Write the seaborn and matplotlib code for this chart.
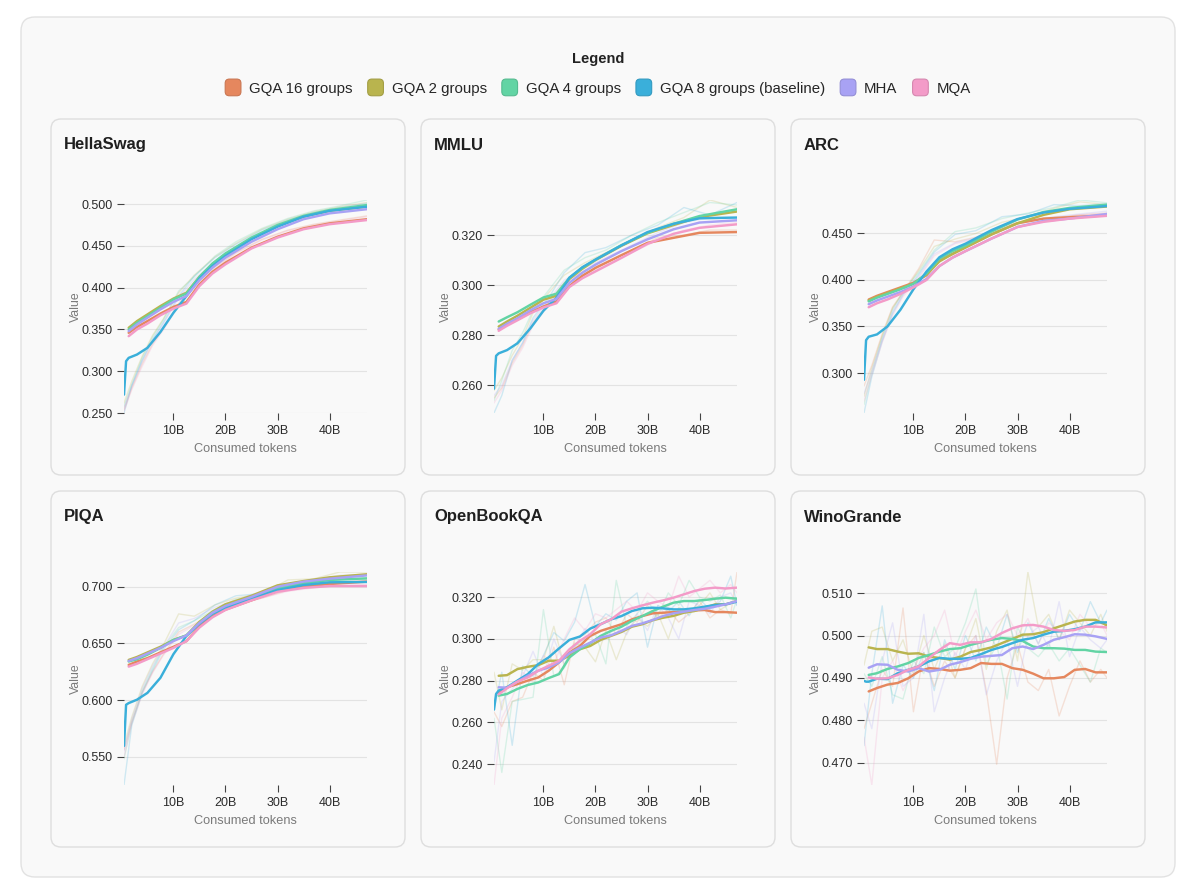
import numpy as np
import pandas as pd
import matplotlib
matplotlib.use("Agg")
import matplotlib.pyplot as plt
import seaborn as sns
from matplotlib.patches import FancyBboxPatch, Patch
from matplotlib.legend_handler import HandlerPatch
from matplotlib.ticker import MultipleLocator, FuncFormatter
import matplotlib.colors as mcolors

# Series and colours
series_names = ["GQA 16 groups", "GQA 2 groups", "GQA 4 groups",
                "GQA 8 groups (baseline)", "MHA", "MQA"]
series_colors = ["#E5875E", "#B9B44E", "#62D4A4", "#3AAFDA", "#A8A2F4", "#F39BC8"]

benchmarks = ["HellaSwag", "MMLU", "ARC", "PIQA", "OpenBookQA", "WinoGrande"]
y_steps = [0.05, 0.02, 0.05, 0.05, 0.02, 0.01]

x_ticks = [10, 20, 30, 40]
x_tick_labels = ["10B", "20B", "30B", "40B"]

# consumed tokens (billions)
smooth_x_coarse = [0.5, 0.9, 1.4, 3, 5, 7.5, 10, 12.5, 15, 17.5, 20, 25, 30, 35, 40, 47.2]
smooth_x_fine = [0.5, 0.9, 1.4, 3, 5, 7, 9, 11, 13, 15, 17, 19, 21, 23, 25, 27, 29,
                 31, 33, 35, 37, 39, 41, 43, 45, 47.2]
raw_x_coarse = [0.5, 2, 4, 6, 8, 11, 14, 18, 22, 27, 32, 37, 42, 47.2]
raw_x_fine = [0.5, 2, 4, 6, 8, 10, 12, 14, 16, 18, 20, 22, 24, 26, 28, 30, 32, 34,
              36, 38, 40, 42, 44, 46, 47.2]

N = None

# ---------------- HellaSwag ----------------
hellaswag_smooth = {
    "GQA 16 groups": [N, N, 0.346, 0.353, 0.360, 0.369, 0.377, 0.383, 0.404, 0.419, 0.430, 0.448, 0.461, 0.471, 0.477, 0.482],
    "GQA 2 groups": [N, N, 0.352, 0.360, 0.368, 0.378, 0.387, 0.394, 0.413, 0.428, 0.440, 0.459, 0.474, 0.485, 0.492, 0.497],
    "GQA 4 groups": [N, N, 0.350, 0.358, 0.366, 0.376, 0.386, 0.393, 0.413, 0.429, 0.441, 0.460, 0.475, 0.486, 0.493, 0.499],
    "GQA 8 groups (baseline)": [0.272, 0.312, 0.316, 0.320, 0.328, 0.347, 0.370, 0.390, 0.411, 0.426, 0.438, 0.458, 0.473, 0.485, 0.492, 0.497],
    "MHA": [N, N, 0.348, 0.356, 0.364, 0.374, 0.383, 0.390, 0.409, 0.424, 0.436, 0.455, 0.470, 0.482, 0.489, 0.494],
    "MQA": [N, N, 0.342, 0.350, 0.357, 0.367, 0.375, 0.381, 0.402, 0.417, 0.428, 0.447, 0.460, 0.470, 0.476, 0.481],
}
hellaswag_raw = {
    "GQA 16 groups": [0.254, 0.280, 0.309, 0.333, 0.351, 0.381, 0.404, 0.425, 0.442, 0.458, 0.469, 0.476, 0.481, 0.486],
    "GQA 2 groups": [0.262, 0.288, 0.318, 0.343, 0.362, 0.394, 0.415, 0.437, 0.453, 0.470, 0.482, 0.491, 0.497, 0.502],
    "GQA 4 groups": [0.258, 0.284, 0.316, 0.341, 0.361, 0.396, 0.413, 0.438, 0.455, 0.471, 0.483, 0.492, 0.498, 0.505],
    "GQA 8 groups (baseline)": [0.250, 0.283, 0.313, 0.338, 0.358, 0.390, 0.414, 0.436, 0.452, 0.469, 0.481, 0.490, 0.496, 0.501],
    "MHA": [0.256, 0.282, 0.312, 0.337, 0.356, 0.388, 0.410, 0.432, 0.449, 0.466, 0.478, 0.488, 0.493, 0.498],
    "MQA": [0.252, 0.278, 0.306, 0.331, 0.349, 0.379, 0.402, 0.423, 0.441, 0.457, 0.468, 0.475, 0.480, 0.485],
}

# ---------------- MMLU ----------------
mmlu_smooth = {
    "GQA 16 groups": [N, N, 0.2824, 0.2843, 0.2864, 0.2892, 0.2915, 0.2935, 0.2997, 0.3038, 0.3069, 0.3120, 0.3169, 0.3189, 0.3209, 0.3212],
    "GQA 2 groups": [N, N, 0.2835, 0.2855, 0.2878, 0.2910, 0.2942, 0.2958, 0.3025, 0.3066, 0.3100, 0.3157, 0.3207, 0.3240, 0.3272, 0.3294],
    "GQA 4 groups": [N, N, 0.2855, 0.2872, 0.2892, 0.2922, 0.2951, 0.2966, 0.3030, 0.3070, 0.3102, 0.3160, 0.3209, 0.3245, 0.3276, 0.3303],
    "GQA 8 groups (baseline)": [0.2587, 0.2718, 0.2728, 0.2741, 0.2768, 0.2828, 0.2898, 0.2950, 0.3030, 0.3072, 0.3102, 0.3159, 0.3212, 0.3245, 0.3267, 0.3270],
    "MHA": [N, N, 0.2826, 0.2846, 0.2868, 0.2900, 0.2928, 0.2945, 0.3010, 0.3050, 0.3082, 0.3136, 0.3183, 0.3223, 0.3250, 0.3259],
    "MQA": [N, N, 0.2818, 0.2838, 0.2860, 0.2888, 0.2911, 0.2928, 0.2993, 0.3028, 0.3055, 0.3109, 0.3165, 0.3205, 0.3229, 0.3243],
}
mmlu_raw = {
    "GQA 16 groups": [0.255, 0.259, 0.269, 0.276, 0.285, 0.293, 0.301, 0.306, 0.309, 0.314, 0.319, 0.320, 0.322, 0.322],
    "GQA 2 groups": [0.258, 0.263, 0.272, 0.279, 0.289, 0.297, 0.304, 0.309, 0.313, 0.318, 0.323, 0.327, 0.334, 0.331],
    "GQA 4 groups": [0.254, 0.262, 0.274, 0.281, 0.290, 0.298, 0.306, 0.311, 0.314, 0.320, 0.325, 0.329, 0.333, 0.332],
    "GQA 8 groups (baseline)": [0.249, 0.256, 0.270, 0.277, 0.287, 0.295, 0.305, 0.313, 0.315, 0.320, 0.324, 0.331, 0.328, 0.333],
    "MHA": [0.256, 0.260, 0.270, 0.277, 0.286, 0.294, 0.302, 0.307, 0.311, 0.316, 0.321, 0.325, 0.327, 0.327],
    "MQA": [0.253, 0.258, 0.268, 0.275, 0.284, 0.292, 0.300, 0.304, 0.308, 0.313, 0.318, 0.322, 0.324, 0.325],
}

# ---------------- ARC ----------------
arc_smooth = {
    "GQA 16 groups": [N, N, 0.379, 0.383, 0.387, 0.392, 0.397, 0.405, 0.421, 0.428, 0.435, 0.449, 0.461, 0.466, 0.4675, 0.4695],
    "GQA 2 groups": [N, N, 0.378, 0.382, 0.386, 0.391, 0.396, 0.406, 0.420, 0.428, 0.435, 0.449, 0.461, 0.470, 0.476, 0.479],
    "GQA 4 groups": [N, N, 0.377, 0.381, 0.385, 0.390, 0.396, 0.407, 0.423, 0.431, 0.437, 0.452, 0.465, 0.473, 0.4775, 0.481],
    "GQA 8 groups (baseline)": [0.2927, 0.3353, 0.339, 0.3415, 0.350, 0.368, 0.390, 0.409, 0.4245, 0.433, 0.439, 0.4536, 0.4655, 0.4725, 0.4765, 0.4795],
    "MHA": [N, N, 0.374, 0.378, 0.382, 0.387, 0.393, 0.401, 0.415, 0.424, 0.431, 0.4445, 0.457, 0.4635, 0.466, 0.471],
    "MQA": [N, N, 0.3707, 0.375, 0.379, 0.385, 0.392, 0.400, 0.415, 0.424, 0.431, 0.4445, 0.457, 0.4625, 0.466, 0.469],
}
arc_raw = {
    "GQA 16 groups": [0.286, 0.308, 0.342, 0.371, 0.387, 0.412, 0.443, 0.441, 0.446, 0.458, 0.464, 0.467, 0.470, 0.472],
    "GQA 2 groups": [0.275, 0.305, 0.340, 0.370, 0.386, 0.410, 0.436, 0.444, 0.450, 0.462, 0.468, 0.477, 0.484, 0.481],
    "GQA 4 groups": [0.266, 0.300, 0.338, 0.368, 0.388, 0.408, 0.432, 0.452, 0.456, 0.466, 0.472, 0.478, 0.486, 0.483],
    "GQA 8 groups (baseline)": [0.257, 0.296, 0.334, 0.364, 0.384, 0.406, 0.430, 0.449, 0.453, 0.468, 0.471, 0.481, 0.480, 0.482],
    "MHA": [0.278, 0.302, 0.336, 0.366, 0.385, 0.404, 0.428, 0.440, 0.445, 0.456, 0.463, 0.468, 0.471, 0.474],
    "MQA": [0.270, 0.298, 0.333, 0.362, 0.382, 0.402, 0.426, 0.439, 0.444, 0.455, 0.463, 0.466, 0.470, 0.471],
}

# ---------------- PIQA ----------------
piqa_smooth = {
    "GQA 16 groups": [N, N, 0.631, 0.634, 0.637, 0.642, 0.647, 0.652, 0.665, 0.674, 0.6798, 0.688, 0.6964, 0.700, 0.7024, 0.7045],
    "GQA 2 groups": [N, N, 0.6354, 0.638, 0.642, 0.647, 0.653, 0.657, 0.669, 0.678, 0.6845, 0.692, 0.7012, 0.705, 0.7083, 0.711],
    "GQA 4 groups": [N, N, 0.634, 0.636, 0.640, 0.646, 0.653, 0.657, 0.668, 0.677, 0.683, 0.6905, 0.6985, 0.703, 0.706, 0.7074],
    "GQA 8 groups (baseline)": [0.5595, 0.5958, 0.5973, 0.6003, 0.6063, 0.6196, 0.6405, 0.6566, 0.6673, 0.676, 0.6815, 0.6896, 0.697, 0.7015, 0.7039, 0.7042],
    "MHA": [N, N, 0.6345, 0.637, 0.641, 0.646, 0.652, 0.657, 0.668, 0.677, 0.683, 0.691, 0.700, 0.7045, 0.7071, 0.710],
    "MQA": [N, N, 0.6295, 0.632, 0.636, 0.641, 0.646, 0.652, 0.664, 0.673, 0.6795, 0.688, 0.6955, 0.699, 0.7006, 0.7006],
}
piqa_raw = {
    "GQA 16 groups": [0.556, 0.581, 0.607, 0.625, 0.640, 0.660, 0.667, 0.678, 0.684, 0.690, 0.697, 0.701, 0.704, 0.706],
    "GQA 2 groups": [0.560, 0.585, 0.612, 0.632, 0.648, 0.676, 0.674, 0.684, 0.690, 0.694, 0.706, 0.707, 0.713, 0.713],
    "GQA 4 groups": [0.548, 0.580, 0.608, 0.628, 0.646, 0.664, 0.670, 0.680, 0.689, 0.692, 0.700, 0.704, 0.709, 0.710],
    "GQA 8 groups (baseline)": [0.525, 0.578, 0.606, 0.626, 0.644, 0.662, 0.670, 0.684, 0.692, 0.694, 0.699, 0.703, 0.706, 0.707],
    "MHA": [0.555, 0.583, 0.610, 0.630, 0.646, 0.668, 0.672, 0.682, 0.688, 0.696, 0.703, 0.706, 0.710, 0.711],
    "MQA": [0.550, 0.579, 0.605, 0.624, 0.639, 0.658, 0.666, 0.676, 0.685, 0.690, 0.696, 0.699, 0.701, 0.702],
}

# ---------------- OpenBookQA ----------------
openbookqa_smooth = {
    "GQA 16 groups": [N, N, 0.2740, 0.2768, 0.2783, 0.2800, 0.2815, 0.2847, 0.2887, 0.2934, 0.2966, 0.3014, 0.3038, 0.3054, 0.3070,
                      0.3093, 0.3109, 0.3122, 0.3125, 0.3128, 0.3130, 0.3136, 0.3138, 0.3128, 0.3128, 0.3125],
    "GQA 2 groups": [N, N, 0.2823, 0.2826, 0.2855, 0.2866, 0.2874, 0.2895, 0.2895, 0.2919, 0.2950, 0.2966, 0.2995, 0.3014, 0.3033,
                     0.3058, 0.3070, 0.3089, 0.3101, 0.3110, 0.3125, 0.3133, 0.3149, 0.3165, 0.3165, 0.3181],
    "GQA 4 groups": [N, N, 0.2728, 0.2736, 0.2760, 0.2779, 0.2791, 0.2812, 0.2831, 0.2911, 0.2950, 0.2979, 0.3014, 0.3038, 0.3058,
                     0.3086, 0.3109, 0.3133, 0.3154, 0.3173, 0.3181, 0.3181, 0.3186, 0.3192, 0.3197, 0.3192],
    "GQA 8 groups (baseline)": [0.2661, 0.2736, 0.2752, 0.2768, 0.2800, 0.2831, 0.2879, 0.2911, 0.2954, 0.2995, 0.3011, 0.3049, 0.3070,
                                0.3093, 0.3109, 0.3133, 0.3146, 0.3149, 0.3146, 0.3141, 0.3141, 0.3146, 0.3154, 0.3162, 0.3165, 0.3178],
    "MHA": [N, N, 0.2768, 0.2766, 0.2795, 0.2823, 0.2847, 0.2863, 0.2887, 0.2931, 0.2958, 0.2982, 0.3006, 0.3017, 0.3038,
            0.3062, 0.3074, 0.3090, 0.3109, 0.3122, 0.3130, 0.3138, 0.3144, 0.3154, 0.3165, 0.3181],
    "MQA": [N, N, 0.2734, 0.2763, 0.2795, 0.2815, 0.2847, 0.2871, 0.2895, 0.2950, 0.2990, 0.3022, 0.3070, 0.3093, 0.3130,
            0.3146, 0.3160, 0.3173, 0.3184, 0.3197, 0.3213, 0.3229, 0.3240, 0.3245, 0.3241, 0.3245],
}
openbookqa_raw = {
    "GQA 16 groups": [0.265, 0.258, 0.270, 0.272, 0.284, 0.280, 0.296, 0.278, 0.300, 0.302, 0.308, 0.310, 0.302, 0.312, 0.308,
                      0.316, 0.310, 0.314, 0.308, 0.312, 0.318, 0.310, 0.314, 0.312, 0.332],
    "GQA 2 groups": [0.284, 0.266, 0.288, 0.285, 0.290, 0.290, 0.306, 0.287, 0.298, 0.296, 0.289, 0.304, 0.290, 0.303, 0.310,
                     0.306, 0.312, 0.300, 0.315, 0.313, 0.316, 0.322, 0.314, 0.317, 0.318],
    "GQA 4 groups": [0.262, 0.236, 0.270, 0.271, 0.272, 0.314, 0.282, 0.286, 0.296, 0.300, 0.302, 0.288, 0.328, 0.306, 0.312,
                     0.318, 0.311, 0.322, 0.316, 0.328, 0.320, 0.318, 0.321, 0.310, 0.319],
    "GQA 8 groups (baseline)": [0.266, 0.284, 0.249, 0.287, 0.282, 0.292, 0.303, 0.299, 0.308, 0.326, 0.306, 0.312, 0.309, 0.318,
                                0.322, 0.296, 0.316, 0.313, 0.318, 0.311, 0.319, 0.314, 0.318, 0.330, 0.316],
    "MHA": [0.241, 0.270, 0.276, 0.282, 0.294, 0.282, 0.300, 0.288, 0.296, 0.305, 0.298, 0.300, 0.306, 0.302, 0.312,
            0.304, 0.316, 0.310, 0.300, 0.318, 0.316, 0.312, 0.320, 0.322, 0.316],
    "MQA": [0.230, 0.262, 0.272, 0.284, 0.280, 0.292, 0.288, 0.300, 0.310, 0.304, 0.312, 0.310, 0.314, 0.318, 0.313,
            0.322, 0.318, 0.315, 0.330, 0.320, 0.324, 0.328, 0.322, 0.326, 0.322],
}

# ---------------- WinoGrande ----------------
winogrande_smooth = {
    "GQA 16 groups": [N, N, 0.4868, 0.4876, 0.4884, 0.4888, 0.4899, 0.4915, 0.4923, 0.4921, 0.4917, 0.4919, 0.4923, 0.4935, 0.4933,
                      0.4933, 0.4923, 0.4919, 0.4910, 0.4899, 0.4899, 0.4902, 0.4919, 0.4921, 0.4913, 0.4913],
    "GQA 2 groups": [N, N, 0.4972, 0.4968, 0.4968, 0.4962, 0.4957, 0.4958, 0.4950, 0.4947, 0.4943, 0.4950, 0.4961, 0.4966, 0.4972,
                     0.4982, 0.4992, 0.5002, 0.5003, 0.5008, 0.5017, 0.5025, 0.5033, 0.5037, 0.5037, 0.5024],
    "GQA 4 groups": [N, N, 0.4907, 0.4911, 0.4921, 0.4927, 0.4935, 0.4947, 0.4954, 0.4962, 0.4968, 0.4970, 0.4978, 0.4984, 0.4990,
                     0.4994, 0.4992, 0.4987, 0.4974, 0.4970, 0.4970, 0.4969, 0.4966, 0.4966, 0.4962, 0.4961],
    "GQA 8 groups (baseline)": [0.4893, 0.4891, 0.4891, 0.4898, 0.4897, 0.4911, 0.4919, 0.4927, 0.4939, 0.4947, 0.4945, 0.4945, 0.4947,
                                0.4956, 0.4966, 0.4973, 0.4982, 0.4990, 0.4994, 0.5002, 0.5009, 0.5011, 0.5015, 0.5021, 0.5031, 0.5031],
    "MHA": [N, N, 0.4924, 0.4932, 0.4931, 0.4919, 0.4915, 0.4923, 0.4915, 0.4919, 0.4931, 0.4937, 0.4945, 0.4950, 0.4952,
            0.4954, 0.4970, 0.4974, 0.4968, 0.4978, 0.4990, 0.4996, 0.5003, 0.5002, 0.4998, 0.4992],
    "MQA": [N, N, 0.4901, 0.4898, 0.4899, 0.4907, 0.4919, 0.4927, 0.4947, 0.4966, 0.4982, 0.4978, 0.4984, 0.4984, 0.4992,
            0.5006, 0.5017, 0.5024, 0.5025, 0.5021, 0.5013, 0.5011, 0.5013, 0.5021, 0.5021, 0.5019],
}
winogrande_raw = {
    "GQA 16 groups": [0.478, 0.484, 0.492, 0.488, 0.5065, 0.482, 0.496, 0.488, 0.494, 0.490, 0.497, 0.500, 0.487, 0.4696, 0.490,
                      0.498, 0.489, 0.487, 0.492, 0.481, 0.488, 0.494, 0.489, 0.492, 0.490],
    "GQA 2 groups": [0.493, 0.501, 0.502, 0.494, 0.499, 0.491, 0.500, 0.492, 0.498, 0.490, 0.497, 0.504, 0.492, 0.501, 0.506,
                     0.494, 0.515, 0.502, 0.505, 0.499, 0.506, 0.503, 0.500, 0.505, 0.501],
    "GQA 4 groups": [0.491, 0.488, 0.495, 0.486, 0.485, 0.494, 0.491, 0.502, 0.495, 0.497, 0.503, 0.511, 0.493, 0.498, 0.485,
                     0.502, 0.497, 0.495, 0.498, 0.494, 0.497, 0.493, 0.489, 0.497, 0.496],
    "GQA 8 groups (baseline)": [0.474, 0.491, 0.507, 0.484, 0.493, 0.490, 0.496, 0.487, 0.499, 0.492, 0.500, 0.494, 0.502, 0.497,
                                0.505, 0.496, 0.503, 0.498, 0.504, 0.499, 0.505, 0.501, 0.508, 0.503, 0.506],
    "MHA": [0.484, 0.478, 0.494, 0.503, 0.488, 0.490, 0.505, 0.482, 0.490, 0.496, 0.492, 0.500, 0.486, 0.494, 0.499,
            0.488, 0.500, 0.502, 0.497, 0.508, 0.495, 0.502, 0.499, 0.497, 0.499],
    "MQA": [0.476, 0.4647, 0.490, 0.494, 0.487, 0.492, 0.497, 0.500, 0.506, 0.495, 0.501, 0.506, 0.499, 0.503, 0.505,
            0.500, 0.504, 0.498, 0.503, 0.501, 0.499, 0.505, 0.502, 0.503, 0.500],
}

panel_smooth = [hellaswag_smooth, mmlu_smooth, arc_smooth, piqa_smooth, openbookqa_smooth, winogrande_smooth]
panel_raw = [hellaswag_raw, mmlu_raw, arc_raw, piqa_raw, openbookqa_raw, winogrande_raw]
panel_smooth_x = [smooth_x_coarse] * 4 + [smooth_x_fine] * 2
panel_raw_x = [raw_x_coarse] * 4 + [raw_x_fine] * 2


def series_xy(x, ys):
    # drop the points a series does not have
    pts = [(xi, yi) for xi, yi in zip(x, ys) if yi is not None]
    return [p[0] for p in pts], [p[1] for p in pts]


class RoundedHandle(HandlerPatch):
    # rounded square swatches in the legend
    def create_artists(self, legend, orig_handle, xdescent, ydescent, width, height, fontsize, trans):
        p = FancyBboxPatch((-xdescent, -ydescent - 1), width, height + 2,
                           boxstyle="round,pad=0,rounding_size=3",
                           fc=orig_handle.get_facecolor(), ec=orig_handle.get_edgecolor(),
                           lw=0.8, transform=trans)
        return [p]


sns.set_theme(style="white")
plt.rcParams["font.family"] = ["Liberation Sans", "DejaVu Sans"]

W, H = 1200, 894
fig = plt.figure(figsize=(W / 100, H / 100), dpi=100)
fig.patch.set_facecolor("white")

# background layer in pixel coordinates for the cards
bg = fig.add_axes([0, 0, 1, 1], zorder=0)
bg.set_xlim(0, W)
bg.set_ylim(H, 0)
bg.axis("off")
bg.add_patch(FancyBboxPatch((21, 17), 1154, 860, boxstyle="round,pad=0,rounding_size=14",
                            fc="#f9f9f9", ec="#e2e2e2", lw=1.0))

bg.text(598, 59, "Legend", ha="center", va="center", fontsize=10.5,
        fontweight="bold", color="#222222")

card_lefts = [51, 421, 791]
card_tops = [119, 491]
card_w, card_h = 354, 356

for i, name in enumerate(benchmarks):
    r, c = divmod(i, 3)
    cl, ct = card_lefts[c], card_tops[r]
    bg.add_patch(FancyBboxPatch((cl, ct), card_w, card_h, boxstyle="round,pad=0,rounding_size=10",
                                fc="#f9f9f9", ec="#dedede", lw=1.0))
    bg.text(cl + 13, ct + 26, name, ha="left", va="center", fontsize=12,
            fontweight="bold", color="#1f1f1f")

    ax_l, ax_t, ax_w, ax_h = cl + 73, ct + 81, 243, 213
    ax = fig.add_axes([ax_l / W, 1 - (ax_t + ax_h) / H, ax_w / W, ax_h / H], zorder=1)
    ax.patch.set_alpha(0)

    all_vals, all_x = [], []
    # faint raw runs first, then the smoothed curves on top
    for sname, col in zip(series_names, series_colors):
        xs, ys = series_xy(panel_raw_x[i], panel_raw[i][sname])
        sns.lineplot(x=xs, y=ys, color=col, linewidth=1.0, alpha=0.22,
                     estimator=None, sort=False, ax=ax, zorder=2)
        all_vals += ys
        all_x += xs
    for sname, col in zip(series_names, series_colors):
        xs, ys = series_xy(panel_smooth_x[i], panel_smooth[i][sname])
        sns.lineplot(x=xs, y=ys, color=col, linewidth=1.75, alpha=1.0,
                     estimator=None, sort=False, ax=ax, zorder=3)
        all_vals += ys

    lo, hi = min(all_vals), max(all_vals)
    ax.set_xlim(min(all_x), max(all_x))
    ax.set_ylim(lo, hi)

    ax.set_xticks(x_ticks)
    ax.set_xticklabels(x_tick_labels)
    ax.yaxis.set_major_locator(MultipleLocator(y_steps[i]))
    ax.yaxis.set_major_formatter(FuncFormatter(lambda v, p: f"{v:.3f}"))

    ax.grid(axis="y", color="#e3e3e3", linewidth=0.8, zorder=1)
    ax.grid(axis="x", visible=False)
    ax.set_axisbelow(True)

    for s in ax.spines.values():
        s.set_visible(False)
    ax.tick_params(axis="both", which="major", length=5, width=0.8, color="#444444",
                   labelsize=9, labelcolor="#2b2b2b", pad=3, bottom=True, left=True)
    ax.tick_params(axis="x", pad=4)

    ax.set_xlabel("Consumed tokens", fontsize=9.2, color="#7a7a7a")
    ax.set_ylabel("Value", fontsize=8.8, color="#7a7a7a")
    ax.xaxis.set_label_coords(0.5, -0.14)
    ax.yaxis.set_label_coords(-0.175, 0.5)


def edge_of(col):
    rgb = np.array(mcolors.to_rgb(col)) * 0.88
    return tuple(rgb)


handles = [Patch(facecolor=c, edgecolor=edge_of(c), linewidth=0.8) for c in series_colors]
fig.legend(handles, series_names, loc="center", bbox_to_anchor=(598 / W, 1 - 88 / H), ncol=6,
           frameon=False, fontsize=10.8, handlelength=1.05, handleheight=1.05,
           handletextpad=0.55, columnspacing=1.0, borderaxespad=0,
           handler_map={Patch: RoundedHandle()})

fig.savefig("out.png", dpi=100, facecolor="white")
